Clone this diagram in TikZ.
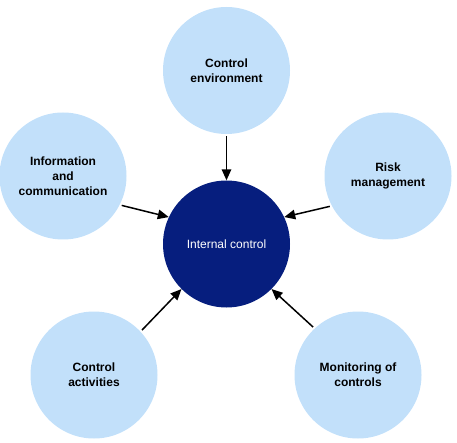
\documentclass[tikz,border=0pt]{standalone}
\usepackage{fontspec}
\setmainfont{Liberation Sans}
\usetikzlibrary{arrows.meta}
\definecolor{lightblue}{HTML}{C2E0FA}
\definecolor{darkblue}{HTML}{061E7E}
\begin{document}
\begin{tikzpicture}[x=1pt,y=-1pt,
  outer/.style={circle,fill=lightblue,minimum size=127pt,inner sep=0pt,align=center,
    font=\fontsize{12}{15}\selectfont\bfseries,text=black},
  inner/.style={circle,fill=darkblue,minimum size=127pt,inner sep=0pt,align=center,
    font=\fontsize{12}{15}\selectfont,text=white},
  link/.style={line width=1.5pt,-{Triangle[length=11pt,width=9.5pt]},shorten <=2pt}]
\useasboundingbox (0,0) rectangle (457,443);
\node[inner] (c) at (226.5,244) {Internal control};
\node[outer] (env) at (226.5,70.5) {Control\\environment};
\node[outer] (info) at (63,176) {Information\\and\\communication};
\node[outer] (risk) at (388,176) {Risk\\management};
\node[outer] (act) at (94,375) {Control\\activities};
\node[outer] (mon) at (358,375) {Monitoring of\\controls};
\draw[link] (env.270) -- (c.90);
\draw[link] (info.-27) -- (c.155);
\draw[link] (risk.-152) -- (c.25.6);
\draw[link] (act.43.7) -- (c.225.3);
\draw[link] (mon.133.8) -- (c.-45.3);
\end{tikzpicture}
\end{document}
